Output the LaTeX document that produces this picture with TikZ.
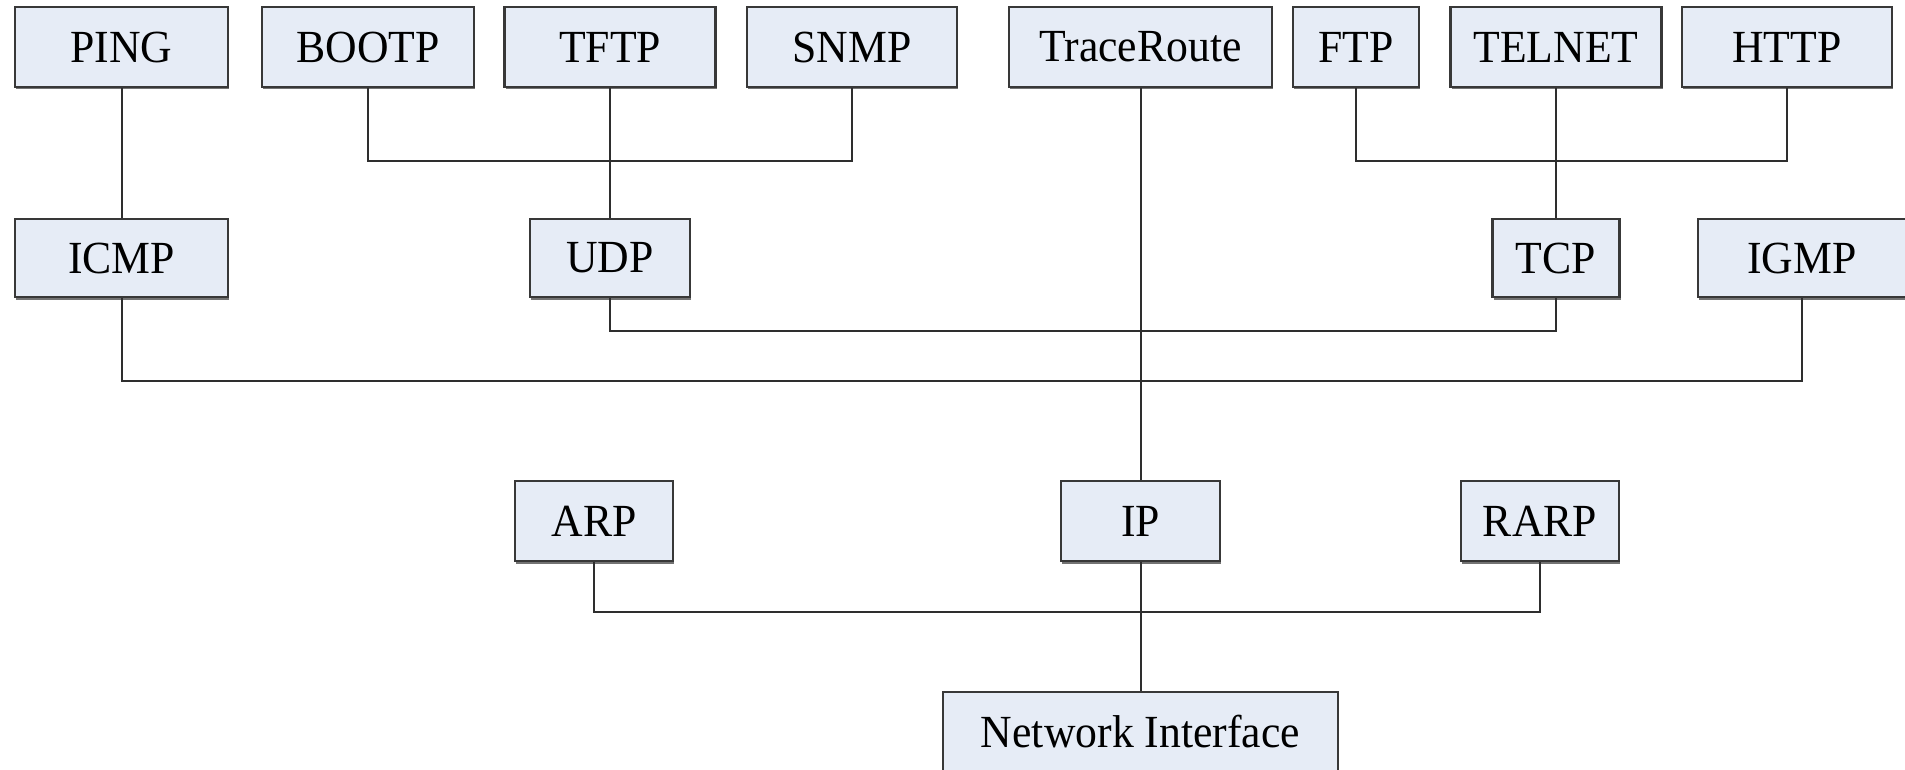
\documentclass[tikz,border=0pt]{standalone}
\usepackage{fontspec}
\setmainfont{Liberation Serif}[FakeStretch=0.95]
\usetikzlibrary{shadows}
\definecolor{boxfill}{HTML}{E6ECF6}
\definecolor{boxline}{HTML}{383838}
\definecolor{wireline}{HTML}{2E2E2E}
\tikzset{
  proto/.style={draw=boxline, line width=2.2pt, fill=boxfill, rectangle, inner sep=0pt,
    minimum height=80pt, font=\fontsize{46}{50}\selectfont,
    drop shadow={shadow xshift=1pt, shadow yshift=-2.5pt, fill=black!55, opacity=1}},
  wire/.style={draw=wireline, line width=2pt}
}
\begin{document}
\begin{tikzpicture}[x=1pt,y=-1pt]
\useasboundingbox (0,0) rectangle (1905,770);
% row 1
\node[proto, minimum width=213pt] (ping)  at (121.5,47) {PING};
\node[proto, minimum width=212pt] (bootp) at (368,47) {BOOTP};
\node[proto, minimum width=211pt] (tftp)  at (610,47) {TFTP};
\node[proto, minimum width=210pt] (snmp)  at (852,47) {SNMP};
\node[proto, minimum width=263pt] (trace) at (1140.5,47) {TraceRoute};
\node[proto, minimum width=126pt] (ftp)   at (1356,47) {FTP};
\node[proto, minimum width=211pt] (telnet) at (1556,47) {TELNET};
\node[proto, minimum width=210pt] (http)  at (1787,47) {HTTP};
% row 2
\node[proto, minimum width=213pt, minimum height=78pt] (icmp) at (121.5,258) {ICMP};
\node[proto, minimum width=160pt, minimum height=78pt] (udp)  at (610,258) {UDP};
\node[proto, minimum width=127pt, minimum height=78pt] (tcp)  at (1556,258) {TCP};
\node[proto, minimum width=208pt, minimum height=78pt] (igmp) at (1802,258) {IGMP};
% row 3
\node[proto, minimum width=158pt] (arp)  at (594,521) {ARP};
\node[proto, minimum width=159pt] (ip)   at (1140.5,521) {IP};
\node[proto, minimum width=158pt] (rarp) at (1540,521) {RARP};
% row 4
\node[proto, minimum width=395pt] (ni) at (1140.5,732) {Network Interface};
% bar levels
\coordinate (b1) at (0,161);
\coordinate (b2) at (0,331);
\coordinate (b3) at (0,381);
\coordinate (b4) at (0,612);
% connectors
\draw[wire] (ping.south) -- (icmp.north);
\draw[wire] (bootp.south) |- (snmp.south |- b1) -- (snmp.south);
\draw[wire] (tftp.south) -- (udp.north);
\draw[wire] (trace.south) -- (ip.north);
\draw[wire] (ftp.south) |- (http.south |- b1) -- (http.south);
\draw[wire] (telnet.south) -- (tcp.north);
\draw[wire] (udp.south) |- (tcp.south |- b2) -- (tcp.south);
\draw[wire] (icmp.south) |- (igmp.south |- b3) -- (igmp.south);
\draw[wire] (arp.south) |- (rarp.south |- b4) -- (rarp.south);
\draw[wire] (ip.south) -- (ni.north);
\end{tikzpicture}
\end{document}
